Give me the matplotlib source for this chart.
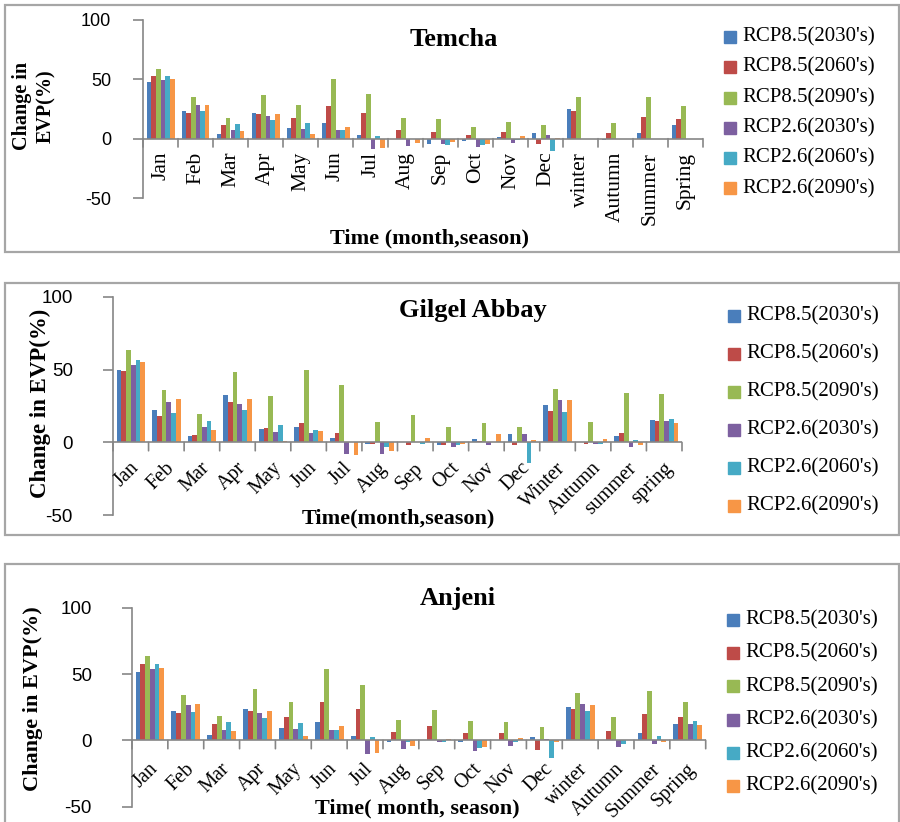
import matplotlib
matplotlib.use("Agg")
import matplotlib.pyplot as plt
from matplotlib.patches import Rectangle
import numpy as np

series_names = ["RCP8.5(2030's)", "RCP8.5(2060's)", "RCP8.5(2090's)",
                "RCP2.6(2030's)", "RCP2.6(2060's)", "RCP2.6(2090's)"]
colors = ["#4A7EBB", "#BE4B48", "#98B954", "#7D60A0", "#46AAC5", "#F79646"]

months = ["Jan", "Feb", "Mar", "Apr", "May", "Jun", "Jul", "Aug", "Sep", "Oct", "Nov", "Dec"]
temcha_categories = months + ["winter", "Autumn", "Summer", "Spring"]
gilgel_categories = months + ["Winter", "Autumn", "summer", "spring"]
anjeni_categories = months + ["winter", "Autumn", "Summer", "Spring"]

# Temcha: rows = series (same order as series_names), columns = categories
temcha_values = [
    [47.6, 23.0, 3.6, 22.0, 9.2, 13.4, 2.8, 0.0, -4.2, -2.0, 1.4, 4.5, 25.2, -1.1, 5.0, 11.5],
    [53.0, 22.0, 11.5, 21.0, 17.4, 27.5, 21.3, 7.6, 5.6, 3.0, 5.9, -4.2, 23.5, 4.8, 18.5, 16.8],
    [59.0, 35.0, 17.4, 37.0, 28.6, 50.4, 37.8, 17.4, 16.5, 9.8, 14.0, 11.8, 35.3, 13.4, 35.3, 27.7],
    [49.6, 28.0, 7.6, 19.3, 8.4, 7.0, -9.0, -5.9, -4.8, -7.3, -3.6, 2.8, 0.0, 0.0, 0.0, 0.0],
    [53.0, 23.0, 12.6, 16.0, 12.9, 7.0, 2.5, 0.0, -5.0, -5.6, -0.8, -10.0, 0.0, 0.0, 0.0, 0.0],
    [50.7, 28.5, 6.4, 21.0, 3.9, 10.0, -8.0, -3.9, -2.8, -4.5, 2.5, 0.8, 0.0, 0.0, 0.0, 0.0],
]
gilgel_values = [
    [49.8, 22.4, 4.6, 32.4, 9.1, 10.7, 3.2, -0.9, 0.0, -1.8, 2.5, 5.5, 25.8, 0.0, 4.6, 15.3],
    [49.3, 17.8, 5.3, 27.9, 9.8, 13.2, 6.4, -0.9, -2.0, -2.0, 0.9, -1.8, 21.7, -0.9, 6.2, 14.4],
    [63.2, 35.8, 19.6, 48.2, 32.2, 49.5, 39.3, 13.7, 19.0, 10.5, 13.5, 10.7, 36.8, 14.2, 34.0, 33.3],
    [53.4, 28.0, 10.3, 26.5, 7.3, 6.2, -8.0, -7.8, 0.0, -3.4, -1.6, 5.9, 29.2, -1.4, -3.2, 14.8],
    [56.8, 20.3, 14.6, 22.1, 11.9, 8.4, 0.0, -3.0, -1.4, -1.8, 0.0, -14.4, 20.8, -0.9, 1.6, 16.2],
    [55.0, 29.7, 8.7, 29.5, 0.9, 8.0, -8.9, -5.7, 3.2, -1.1, 5.7, 1.6, 28.8, 2.5, -1.8, 13.2],
]
anjeni_values = [
    [51.8, 21.9, 3.8, 23.4, 9.0, 14.1, 3.0, -1.3, 0.0, -1.3, 0.5, 2.5, 25.4, 0.0, 5.3, 12.3],
    [57.3, 20.4, 12.3, 22.1, 17.8, 29.1, 23.4, 6.3, 11.0, 5.3, 5.8, -7.0, 23.4, 7.3, 19.6, 17.3],
    [63.3, 33.9, 18.1, 38.7, 29.1, 53.5, 42.0, 15.3, 23.1, 14.6, 14.1, 10.3, 35.9, 17.3, 36.9, 28.9],
    [53.8, 26.9, 8.0, 20.9, 8.8, 7.5, -10.0, -6.8, -1.0, -8.3, -4.5, 1.0, 27.1, -4.8, -3.0, 12.6],
    [57.5, 21.4, 13.8, 17.1, 13.3, 7.5, 2.8, -1.3, -1.0, -5.8, -1.5, -13.0, 21.9, -2.8, 3.0, 14.8],
    [54.8, 27.6, 7.0, 22.4, 3.5, 11.1, -9.3, -4.5, 1.3, -4.8, 2.0, -1.3, 26.9, 0.0, -1.0, 11.3],
]
y_ticks = [-50, 0, 50, 100]

W, H = 900, 822
fig = plt.figure(figsize=(W / 100, H / 100), dpi=100)
SERIF = ["Liberation Serif", "DejaVu Serif"]
SANS = ["Liberation Sans", "DejaVu Sans"]
AX_COL = "#868686"


def fx(x):
    return x / W


def fy(y):
    return 1 - y / H


def panel(frame, axbox, cats, values, title, title_xy, ylabel, ylabel_xy, ylabel_size,
          xlabel, xlabel_xy, rot, lab_size, lab_dy, leg_x, leg_y0, leg_dy, ytick_pad, ytick_size):
    fx0, fy0, fx1, fy1 = frame
    fig.patches.append(Rectangle((fx(fx0), fy(fy1)), fx(fx1) - fx(fx0), (fy1 - fy0) / H,
                                 transform=fig.transFigure, fill=False,
                                 edgecolor="#A6A6A6", linewidth=1.6, zorder=0))
    x0, y0, x1, y1 = axbox
    ax = fig.add_axes([fx(x0), fy(y1), (x1 - x0) / W, (y1 - y0) / H])
    n = len(cats)
    idx = np.arange(n)
    bw = 0.8 / len(values)
    for k, (vals, col) in enumerate(zip(values, colors)):
        ax.bar(idx + (k - (len(values) - 1) / 2) * bw, vals, width=bw, color=col,
               edgecolor="none", linewidth=0, zorder=2)
    ax.set_xlim(-0.5, n - 0.5)
    ax.set_ylim(-50, 100)
    for s in ["top", "right", "bottom"]:
        ax.spines[s].set_visible(False)
    ax.spines["left"].set_color(AX_COL)
    ax.spines["left"].set_linewidth(1.2)
    ax.set_yticks(y_ticks)
    ax.set_yticklabels([str(t) for t in y_ticks], fontfamily=SANS, fontsize=ytick_size)
    ax.tick_params(axis="y", length=7, width=1.2, color=AX_COL, pad=ytick_pad)
    ax.set_xticks([])
    ax.axhline(0, color=AX_COL, linewidth=1.2, zorder=3)
    for b in np.arange(-0.5, n, 1.0):
        ax.annotate("", xy=(b, 0), xycoords="data", xytext=(0, -6), textcoords="offset points",
                    arrowprops=dict(arrowstyle="-", color=AX_COL, lw=1.2, shrinkA=0, shrinkB=0))
    for i, c in enumerate(cats):
        if rot == 90:
            ax.annotate(c, xy=(i, 0), xytext=(0, -lab_dy), textcoords="offset pixels",
                        rotation=90, ha="center", va="top", fontfamily=SERIF, fontsize=lab_size)
        else:
            ax.annotate(c, xy=(i + 0.15, 0), xytext=(0, -lab_dy), textcoords="offset pixels",
                        rotation=45, ha="right", va="center", rotation_mode="anchor",
                        fontfamily=SERIF, fontsize=lab_size)
    fig.text(fx(title_xy[0]), fy(title_xy[1]), title, ha="center", va="center",
             fontfamily=SERIF, fontweight="bold", fontsize=19)
    fig.text(fx(ylabel_xy[0]), fy(ylabel_xy[1]), ylabel, ha="center", va="center", rotation=90,
             fontfamily=SERIF, fontweight="bold", fontsize=ylabel_size, linespacing=1.3,
             multialignment="center")
    fig.text(fx(xlabel_xy[0]), fy(xlabel_xy[1]), xlabel, ha="center", va="center",
             fontfamily=SERIF, fontweight="bold", fontsize=16)
    for k, (name, col) in enumerate(zip(series_names, colors)):
        yc = leg_y0 + k * leg_dy
        fig.patches.append(Rectangle((fx(leg_x), fy(yc + 6)), 12 / W, 12 / H,
                                     transform=fig.transFigure, color=col, zorder=3))
        fig.text(fx(leg_x + 18), fy(yc), name, ha="left", va="center",
                 fontfamily=SERIF, fontsize=15)
    return ax


panel((4.5, 5, 899, 252), (143, 20, 703, 198), temcha_categories, temcha_values,
      "Temcha", (454, 39), "Change in\nEVP(%)", (34, 106), 14.5,
      "Time (month,season)", (430, 238), 90, 15.5, 13, 724, 37, 30.3, 16, 13)

panel((4.5, 283, 899, 535), (113, 296.7, 682, 515.3), gilgel_categories, gilgel_values,
      "Gilgel Abbay", (473, 310), "Change in EVP(%)", (40, 403), 16.5,
      "Time(month,season)", (398, 518), 45, 14.5, 23, 728, 316, 38, 22, 13.5)

panel((4.5, 564, 899, 830), (132, 607.7, 705.7, 806.7), anjeni_categories, anjeni_values,
      "Anjeni", (458, 598), "Change in EVP(%)", (33, 699), 16,
      "Time( month, season)", (417, 808), 45, 14.5, 26, 727, 620, 33.2, 22, 13.5)

fig.savefig("out.png", dpi=100)
